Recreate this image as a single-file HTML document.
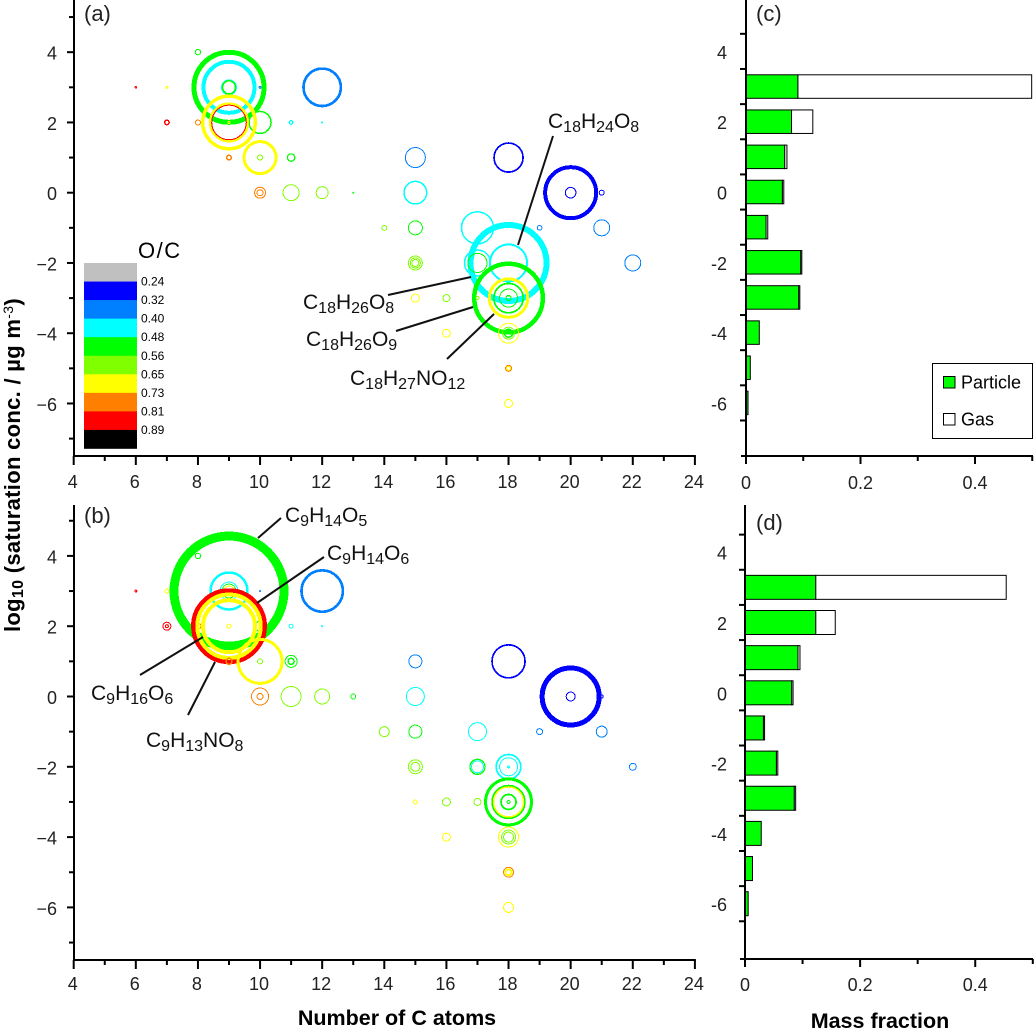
<!DOCTYPE html>
<html>
<head>
<meta charset="utf-8">
<title>Saturation concentration and mass fraction</title>
<style>
html,body{margin:0;padding:0;background:#fff;}
svg{display:block;}
text{font-family:"Liberation Sans",sans-serif;fill:#000;}
.chem{font-size:21px;fill:#111;}
.chem tspan.s{font-size:16px;font-weight:normal;}
.lead{stroke:#111;stroke-width:2;fill:none;}
.tick{font-size:18px;fill:#222;}
.panel{font-size:22px;fill:#222;}
.title{font-size:21.5px;font-weight:bold;}
</style>
</head>
<body>
<svg id="chart" xmlns="http://www.w3.org/2000/svg" width="1034" height="1030" viewBox="0 0 1034 1030">
<rect width="1034" height="1030" fill="#fff"/>
<g id="bubbles-a"></g>
<g id="bubbles-b"></g>
<g id="bars-c"></g>
<g id="bars-d"></g>
<g id="axes"></g>
<g id="colorbar"></g>

<text class="panel" x="84" y="21">(a)</text>
<text class="panel" x="84" y="523">(b)</text>
<text class="panel" x="756" y="21">(c)</text>
<text class="panel" x="756" y="530">(d)</text>

<line class="lead" x1="553" y1="136" x2="518" y2="245"/>
<line class="lead" x1="388" y1="295" x2="471" y2="277"/>
<line class="lead" x1="396" y1="331" x2="473" y2="307"/>
<line class="lead" x1="447" y1="359" x2="494" y2="314"/>
<line class="lead" x1="258" y1="538" x2="281" y2="518"/>
<line class="lead" x1="257" y1="603" x2="324" y2="557"/>
<line class="lead" x1="140" y1="675" x2="203" y2="637"/>
<line class="lead" x1="188" y1="715" x2="215" y2="662"/>

<text class="chem" x="548" y="128">C<tspan class="s" dy="4">18</tspan><tspan dy="-4">H</tspan><tspan class="s" dy="4">24</tspan><tspan dy="-4">O</tspan><tspan class="s" dy="4">8</tspan></text>
<text class="chem" x="303" y="309">C<tspan class="s" dy="4">18</tspan><tspan dy="-4">H</tspan><tspan class="s" dy="4">26</tspan><tspan dy="-4">O</tspan><tspan class="s" dy="4">8</tspan></text>
<text class="chem" x="306" y="346">C<tspan class="s" dy="4">18</tspan><tspan dy="-4">H</tspan><tspan class="s" dy="4">26</tspan><tspan dy="-4">O</tspan><tspan class="s" dy="4">9</tspan></text>
<text class="chem" x="350" y="385">C<tspan class="s" dy="4">18</tspan><tspan dy="-4">H</tspan><tspan class="s" dy="4">27</tspan><tspan dy="-4">NO</tspan><tspan class="s" dy="4">12</tspan></text>
<text class="chem" x="285" y="522">C<tspan class="s" dy="4">9</tspan><tspan dy="-4">H</tspan><tspan class="s" dy="4">14</tspan><tspan dy="-4">O</tspan><tspan class="s" dy="4">5</tspan></text>
<text class="chem" x="327" y="560">C<tspan class="s" dy="4">9</tspan><tspan dy="-4">H</tspan><tspan class="s" dy="4">14</tspan><tspan dy="-4">O</tspan><tspan class="s" dy="4">6</tspan></text>
<text class="chem" x="91" y="700">C<tspan class="s" dy="4">9</tspan><tspan dy="-4">H</tspan><tspan class="s" dy="4">16</tspan><tspan dy="-4">O</tspan><tspan class="s" dy="4">6</tspan></text>
<text class="chem" x="146" y="747">C<tspan class="s" dy="4">9</tspan><tspan dy="-4">H</tspan><tspan class="s" dy="4">13</tspan><tspan dy="-4">NO</tspan><tspan class="s" dy="4">8</tspan></text>

<text transform="translate(20 632) rotate(-90)" font-size="22" font-weight="bold" letter-spacing="0.3">log<tspan font-size="16" dy="3">10</tspan><tspan dy="-3"> (saturation conc. / µg m</tspan><tspan font-size="14" dy="-7" font-weight="normal">-3</tspan><tspan dy="7">)</tspan></text>
<text class="title" x="397" y="1025" text-anchor="middle">Number of C atoms</text>
<text class="title" x="880" y="1028" text-anchor="middle">Mass fraction</text>

<g>
<rect x="932.5" y="363.5" width="100" height="75" fill="#fff" stroke="#000" stroke-width="1"/>
<rect x="943.5" y="376.5" width="11.5" height="11.5" fill="#00ff00" stroke="#000" stroke-width="1"/>
<text x="961" y="388.5" font-size="18" fill="#222">Particle</text>
<rect x="943.5" y="413.5" width="11.5" height="11.5" fill="#fff" stroke="#000" stroke-width="1"/>
<text x="961" y="425.5" font-size="18" fill="#222">Gas</text>
</g>
</svg>

<script>
// ---------- Panel (a) bubbles ----------
const aCarbon = [8,9,9,9,9,6,7,10,12,10,9,9,9,9,7,8,11,12,9,10,10,11,10,10,11,12,13,15,18,20,20,21,15,14,15,17,19,21,18,18,17,17,15,15,15,22,18,18,18,18,18,15,16,17,16,18,18,18,18,18,18];
const aLogC   = [4,3,3,3,3,3,3,3,3,2,2,2,2,2,2,2,2,2,1,1,1,1,0,0,0,0,0,1,1,0,0,0,0,-1,-1,-1,-1,-1,-2,-2,-2,-2,-2,-2,-2,-2,-3,-3,-3,-3,-3,-3,-3,-3,-4,-4,-4,-4,-5,-5,-6];
const aOC     = [.52,.52,.44,.44,.52,.85,.69,.36,.36,.52,.69,.69,.85,.69,.85,.77,.44,.44,.77,.69,.60,.52,.77,.77,.60,.60,.52,.36,.28,.28,.28,.28,.44,.60,.52,.44,.36,.36,.44,.44,.44,.52,.60,.60,.60,.36,.52,.69,.52,.52,.52,.69,.60,.60,.69,.69,.60,.52,.77,.69,.69];
const aSize   = [2.7,35,25.5,7.5,6.5,.8,1,1,18.7,11,26.3,18.7,17.3,1,2.2,2.5,1.8,.6,2.3,16,2.5,3.7,5.5,3,8,6,.6,10,14.5,25.5,5.3,2.5,11.3,2.5,7,16,2.3,8,38,18.5,13,9.5,7,5,3.5,8,34.3,19.2,14.7,9,2.5,4,3.5,1.5,4,10,6,4,3,2,4];
const aWeight = [1,5,4,1,1.5,1,1,1,2.7,1.5,3.5,2.8,1,1,1.5,1,1.3,1,1.5,3,1,1.3,1,1,1,1,1,1,1.7,4,1,1,1.5,1,1,1.5,1,1,6,2,1.5,1,1,1,1,1,4.5,3,1.7,1,1.3,1,1,1,1,1,1,1.5,1,1,1];

// ---------- Panel (b) bubbles ----------
const bCarbon = [8,9,9,9,9,9,6,7,10,12,10,8,9,9,9,9,7,7,11,12,10,9,10,10,11,11,10,10,11,12,13,15,18,20,20,21,15,14,15,17,19,21,15,15,17,17,18,18,18,22,18,18,18,18,18,15,16,17,16,18,18,18,18,18,18];
const bLogC   = [4,3,3,3,3,3,3,3,3,3,2,2,2,2,2,2,2,2,2,2,1,1,1,1,1,1,0,0,0,0,0,1,1,0,0,0,0,-1,-1,-1,-1,-1,-2,-2,-2,-2,-2,-2,-2,-2,-3,-3,-3,-3,-3,-3,-3,-3,-4,-4,-4,-4,-5,-5,-6];
const bOC     = [.52,.52,.44,.44,.52,.69,.85,.69,.36,.36,.52,.77,.85,.69,.69,.69,.85,.85,.44,.44,.69,.77,.60,.60,.52,.52,.77,.77,.60,.60,.52,.36,.28,.28,.28,.28,.44,.60,.52,.44,.36,.36,.60,.60,.52,.44,.44,.44,.44,.36,.52,.52,.69,.52,.52,.69,.60,.60,.69,.69,.60,.60,.77,.69,.69];
const bSize   = [2.7,55,18.5,9,7,5,1,2,.5,20.7,5,3,35.7,31.7,26,2,4,1.5,2,.6,22,3,2.5,2.5,6,3,8.5,3,10,7.5,2.5,6.5,16.5,28.5,4.5,1.5,9,5,6.5,9,3,5.5,7,4.5,7.5,6,12.3,9,1,3.5,23,16,15,7.5,1.5,2,4,3.5,4,10,7,5,5,3,5];
const bWeight = [1,9,2.5,1,1,1,1,1,1,2.7,1,1,4.5,4,4,1,1,1,1,1,3,1.5,1,1,1,1.5,1,1,1,1,1,1,1.7,5,1,1,1,1,1,1,1,1,1,1,1.3,1,1.7,1,1,1,3,2.5,1.5,1.7,1,1,1,1,1,1,1,1,1,2,1];

// ---------- Colour key ----------
const ocBreaks = [0.24,0.32,0.40,0.48,0.56,0.65,0.73,0.81,0.89];
const ocLabels = ["0.24","0.32","0.40","0.48","0.56","0.65","0.73","0.81","0.89"];
const ocColors = ["#c0c0c0","#0000ff","#0080ff","#00ffff","#00ff00","#80ff00","#ffff00","#ff8000","#ff0000","#000000"];

// ---------- Panels (c) and (d) bars ----------
const barBins = [3,2,1,0,-1,-2,-3,-4,-5,-6];
const cParticle = [0.0905,0.0795,0.0675,0.0635,0.035,0.0955,0.092,0.0232,0.0075,0.0035];
const cGas      = [0.4085,0.0372,0.004,0.0025,0.003,0.002,0.002,0,0,0];
const dParticle = [0.1228,0.1228,0.092,0.081,0.032,0.0545,0.0855,0.0282,0.013,0.0055];
const dGas      = [0.331,0.034,0.0035,0.0025,0.002,0.0025,0.0025,0,0,0];

// ---------- Tick labels ----------
const carbonTicks = [4,6,8,10,12,14,16,18,20,22,24];
const logTicks = [4,2,0,-2,-4,-6];
const fractionTicks = [0,0.2,0.4];

const svg = document.getElementById('chart');
const NS = 'http://www.w3.org/2000/svg';

function xCarbon(c){ return 73.7 + 31.06 * (c - 4); }
function yA(v){ return 192.7 - 35.13 * v; }
function yB(v){ return 696.5 - 35.15 * v; }
function yC(v){ return 192 - 35.15 * v; }
function yD(v){ return 692.8 - 35.15 * v; }
function xC(f){ return 746 + 572.5 * f; }
function xD(f){ return 745 + 575.6 * f; }
function sizeScale(s){ return s * 1; }
function ocColor(o){
  for (let i = 0; i < ocBreaks.length; i++) { if (o < ocBreaks[i]) return ocColors[i]; }
  return ocColors[ocColors.length - 1];
}
function mk(tag, attrs, parent){
  const el = document.createElementNS(NS, tag);
  for (const k in attrs) el.setAttribute(k, attrs[k]);
  parent.appendChild(el);
  return el;
}

function drawBubbles(gid, carbon, logc, oc, size, weight, yFn, prefix){
  const g = document.getElementById(gid);
  for (let i = 0; i < carbon.length; i++) {
    const c = mk('circle', {cx: xCarbon(carbon[i]), cy: yFn(logc[i]), r: sizeScale(size[i]), fill: 'none',
      stroke: ocColor(oc[i]), 'stroke-width': weight[i], 'shape-rendering': 'crispEdges'}, g);
    
    
  }
}
drawBubbles('bubbles-a', aCarbon, aLogC, aOC, aSize, aWeight, yA, 'panel-a');
drawBubbles('bubbles-b', bCarbon, bLogC, bOC, bSize, bWeight, yB, 'panel-b');

function drawBars(gid, particle, gas, xFn, yFn, h, prefix){
  const g = document.getElementById(gid);
  const x0 = xFn(0);
  for (let i = 0; i < barBins.length; i++) {
    const yc = yFn(barBins[i]);
    const p = xFn(particle[i]), t = xFn(particle[i] + gas[i]);
    if (gas[i] > 0) {
      const r2 = mk('rect', {x: p, y: yc - h/2, width: t - p, height: h, fill: '#fff', stroke: '#000', 'stroke-width': 1}, g);
      
      
    }
    const r1 = mk('rect', {x: x0, y: yc - h/2, width: p - x0, height: h, fill: '#00ff00', stroke: '#000', 'stroke-width': 1}, g);
    
    
  }
}
drawBars('bars-c', cParticle, cGas, xC, yC, 23.5, 'panel-c');
drawBars('bars-d', dParticle, dGas, xD, yD, 24, 'panel-d');

// ---------- Axes ----------
const axes = document.getElementById('axes');
function line(x1, y1, x2, y2, w, name){
  const l = mk('line', {x1: x1, y1: y1, x2: x2, y2: y2, stroke: '#000', 'stroke-width': w}, axes);
  
  
}
function label(x, y, s, anchor, name){
  const t = mk('text', {x: x, y: y, 'text-anchor': anchor, class: 'tick'}, axes);
  t.textContent = s;
  
  
}
function bubbleAxes(yFn, top, bottom, labelY, prefix){
  line(74, top, 74, bottom + 1, 2, prefix + '-y-axis');
  line(73, bottom, xCarbon(24) + 1, bottom, 2, prefix + '-x-axis');
  for (let v = 5; v >= -7; v--) {
    const major = v % 2 === 0;
    line(major ? 67 : 69, yFn(v), 74, yFn(v), 2, prefix + '-y-tick');
  }
  logTicks.forEach(function (v) {
    const s = v < 0 ? '\u2212' + (-v) : String(v);
    label(57, yFn(v) + 7.5, s, 'end', prefix + '-y-tick-label');
  });
  for (let c = 4; c <= 24; c++) {
    line(xCarbon(c), bottom, xCarbon(c), bottom + (c % 2 === 0 ? 9 : 5), 2, prefix + '-x-tick');
  }
  carbonTicks.forEach(function (c) {
    label(xCarbon(c) - 1, labelY, String(c), 'middle', prefix + '-x-tick-label');
  });
}
bubbleAxes(yA, 0, 456, 488, 'panel-a');
bubbleAxes(yB, 505, 960, 990, 'panel-b');

function barAxes(xFn, yFn, top, bottom, labelY, prefix){
  const x0 = xFn(0);
  line(x0, top, x0, bottom + 1, 2, prefix + '-y-axis');
  line(x0 - 5, bottom, 1033, bottom, 2, prefix + '-x-axis');
  for (let k = 4; k >= -7; k--) {
    line(x0 - 6, yFn(k + 0.5), x0, yFn(k + 0.5), 2, prefix + '-y-tick');
  }
  logTicks.forEach(function (v) {
    label(727, yFn(v) + 7.5, String(v), 'end', prefix + '-y-tick-label');
  });
  for (let k = 0; k <= 5; k++) {
    line(xFn(k / 10), bottom, xFn(k / 10), bottom + (k % 2 === 0 ? 8 : 5), 2, prefix + '-x-tick');
  }
  fractionTicks.forEach(function (f) {
    label(xFn(f), labelY, String(f), 'middle', prefix + '-x-tick-label');
  });
}
barAxes(xC, yC, 0, 456, 489, 'panel-c');
barAxes(xD, yD, 505, 959, 991, 'panel-d');

// ---------- Colour bar ----------
const cb = document.getElementById('colorbar');
const cbTop = 263, cbStep = 18.55;
ocColors.forEach(function (col, i) {
  const r = mk('rect', {x: 84, y: cbTop + i * cbStep, width: 53, height: cbStep + 0.3, fill: col}, cb);
  
  
});
ocLabels.forEach(function (s, i) {
  const t = mk('text', {x: 141, y: cbTop + (i + 1) * cbStep + 4, 'font-size': 12, fill: '#222'}, cb);
  t.textContent = s;
  
  
});
const cbTitle = mk('text', {x: 138, y: 258, 'font-size': 22, 'letter-spacing': 1.5, fill: '#222'}, cb);
cbTitle.textContent = 'O/C';


</script>
</body>
</html>
